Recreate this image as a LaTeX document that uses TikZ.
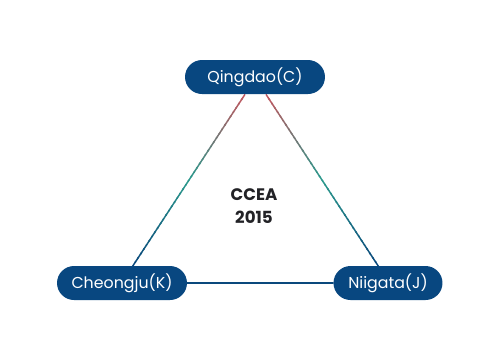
\documentclass[tikz,border=0pt]{standalone}
\usepackage{fontspec}
\setmainfont{Poppins}
\usetikzlibrary{calc,backgrounds}

\definecolor{citybg}{RGB}{8,71,128}
\definecolor{linered}{RGB}{192,88,96}
\definecolor{lineteal}{RGB}{44,152,140}
\definecolor{lineblue}{RGB}{10,72,124}
\definecolor{titlegray}{RGB}{34,34,38}

\tikzset{
  city/.style={fill=citybg, text=white, rounded corners=0.34cm,
    minimum height=0.68cm, inner sep=0pt,
    font=\fontsize{9}{11}\selectfont},
  link/.style={line width=0.85pt, line cap=round}
}

\begin{document}
\begin{tikzpicture}[x=0.02cm, y=-0.02cm]

  \useasboundingbox (0,0) rectangle (500,360);

  %Cities
  \node [city, minimum width=2.8cm]  (qingdao)  at (255,77)  {Qingdao(C)};
  \node [city, minimum width=2.6cm]  (cheongju) at (122,283) {Cheongju(K)};
  \node [city, minimum width=2.18cm] (niigata)  at (388,283) {Niigata(J)};

  %Conference
  \node [font=\fontsize{9.5}{12}\selectfont\bfseries, text=titlegray,
         align=center] (ccea) at (254,206) {CCEA\\[1pt]2015};

  %Ends of the shaded sides
  \coordinate (lefttop)  at ($(qingdao.south)+(-10,0)$);
  \coordinate (leftbot)  at ($(cheongju.north)+(11,0)$);
  \coordinate (righttop) at ($(qingdao.south)+(11,0)$);
  \coordinate (rightbot) at ($(niigata.north)+(-10,0)$);

  \begin{pgfonlayer}{background}
    %Shaded sides, drawn piece by piece
    \foreach \i in {0,...,39}{
      \pgfmathsetmacro{\ta}{\i/40}
      \pgfmathsetmacro{\tb}{(\i+1.3)/40}
      \ifnum\i<20
        \pgfmathtruncatemacro{\p}{100*\i/19}
        \colorlet{seg}{lineteal!\p!linered}
      \else
        \pgfmathtruncatemacro{\p}{100*(\i-20)/19}
        \colorlet{seg}{lineblue!\p!lineteal}
      \fi
      \draw [link, line cap=butt, seg] ($(lefttop)!\ta!(leftbot)$) -- ($(lefttop)!\tb!(leftbot)$);
      \draw [link, line cap=butt, seg] ($(righttop)!\ta!(rightbot)$) -- ($(righttop)!\tb!(rightbot)$);
    }

    %Bottom side
    \draw [link, lineblue] (cheongju.east) -- (niigata.west);
  \end{pgfonlayer}

\end{tikzpicture}
\end{document}
